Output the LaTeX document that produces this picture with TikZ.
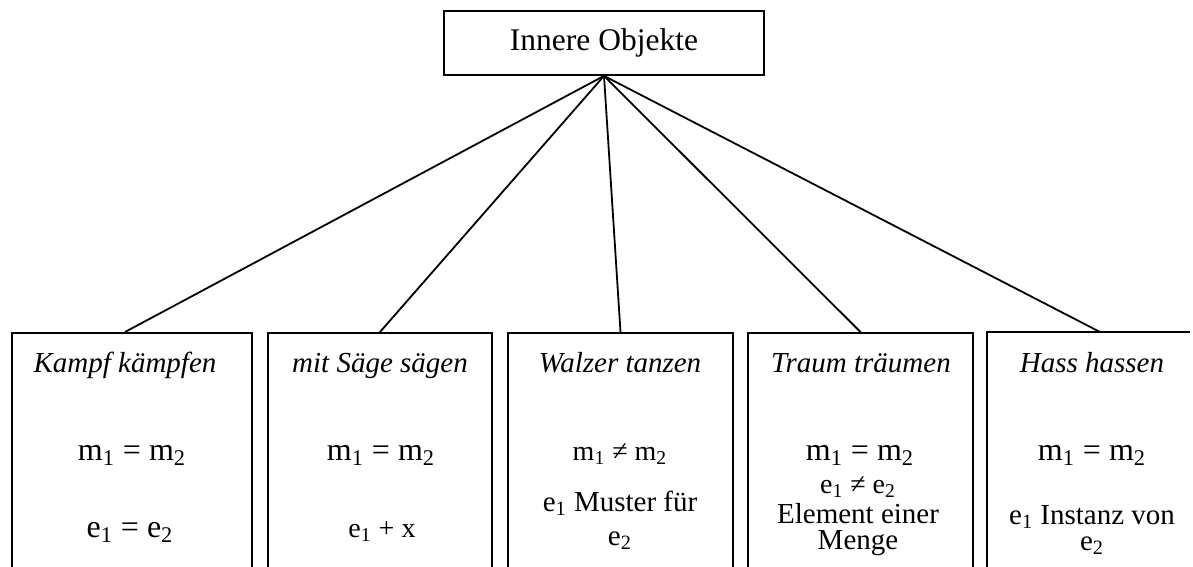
\documentclass[tikz,border=0pt]{standalone}
\usepackage{fontspec}
\setmainfont{Liberation Serif}
\lineskiplimit=-100pt

\begin{document}
\begin{tikzpicture}[
    x = 0.5pt,
    y = -0.5pt,
    line width = 0.9pt,
    root/.style = {draw, rectangle, minimum width=160pt, minimum height=32pt,
    inner sep=0pt, font=\fontsize{15.75}{18}\selectfont},
    case/.style = {draw, rectangle, anchor=north, minimum height=150pt,
    inner sep=0pt},
    head/.style = {inner sep=0pt, anchor=base,
    font=\fontsize{14.5}{16}\selectfont\itshape},
    eqn/.style = {inner sep=0pt, anchor=base, font=\fontsize{16}{18}\selectfont},
    small/.style = {inner sep=0pt, anchor=base, font=\fontsize{14}{16}\selectfont},
    block/.style = {inner sep=0pt, anchor=base, align=center,
    font=\fontsize{14.5}{13}\selectfont},
]
\useasboundingbox (0,0) rectangle (1193,567);

\node[root] (inner) at (604,43){Innere Objekte};

\node[case, minimum width=120pt] (box_1) at (132,332){};
    \node[head] (head_1) at (125,372){Kampf kämpfen};
    \node[eqn] (m_1) at (132,460){m\textsubscript{1} = m\textsubscript{2}};
    \node[eqn] (e_1) at (130,537){e\textsubscript{1} = e\textsubscript{2}};
\node[case, minimum width=112pt] (box_2) at (380,332){};
    \node[head] (head_2) at (380,372){mit Säge sägen};
    \node[eqn] (m_2) at (381,460){m\textsubscript{1} = m\textsubscript{2}};
    \node[small] (e_2) at (382,537){e\textsubscript{1} + x};
\node[case, minimum width=112.5pt] (box_3) at (620.5,332){};
    \node[head] (head_3) at (620,372){Walzer tanzen};
    \node[small] (m_3) at (620,460){m\textsubscript{1} ≠ m\textsubscript{2}};
    \node[block] (e_3) at (620,545){e\textsubscript{1} Muster für\\[4pt]e\textsubscript{2}};
\node[case, minimum width=112.5pt] (box_4) at (860.5,332){};
    \node[head] (head_4) at (861,372){Traum träumen};
    \node[eqn] (m_4) at (860,460){m\textsubscript{1} = m\textsubscript{2}};
    \node[block] (e_4) at (858,549){{\fontsize{14}{13}\selectfont e\textsubscript{1} ≠ e\textsubscript{2}}\\[2pt]Element einer\\Menge};
\node[case, draw=none, minimum width=112pt] (box_5) at (1100,332){};
    \node[head] (head_5) at (1092,372){Hass hassen};
    \node[eqn] (m_5) at (1092,460){m\textsubscript{1} = m\textsubscript{2}};
    \node[block] (e_5) at (1092,550){e\textsubscript{1} Instanz von\\e\textsubscript{2}};
\draw (box_5.south west) |- (1190,332);

\draw (inner.south) -- ([xshift=-3.5pt]box_1.north);
\draw (inner.south) -- (box_2.north);
\draw (inner.south) -- (box_3.north);
\draw (inner.south) -- (box_4.north);
\draw (inner.south) -- (box_5.north);

\end{tikzpicture}
\end{document}
